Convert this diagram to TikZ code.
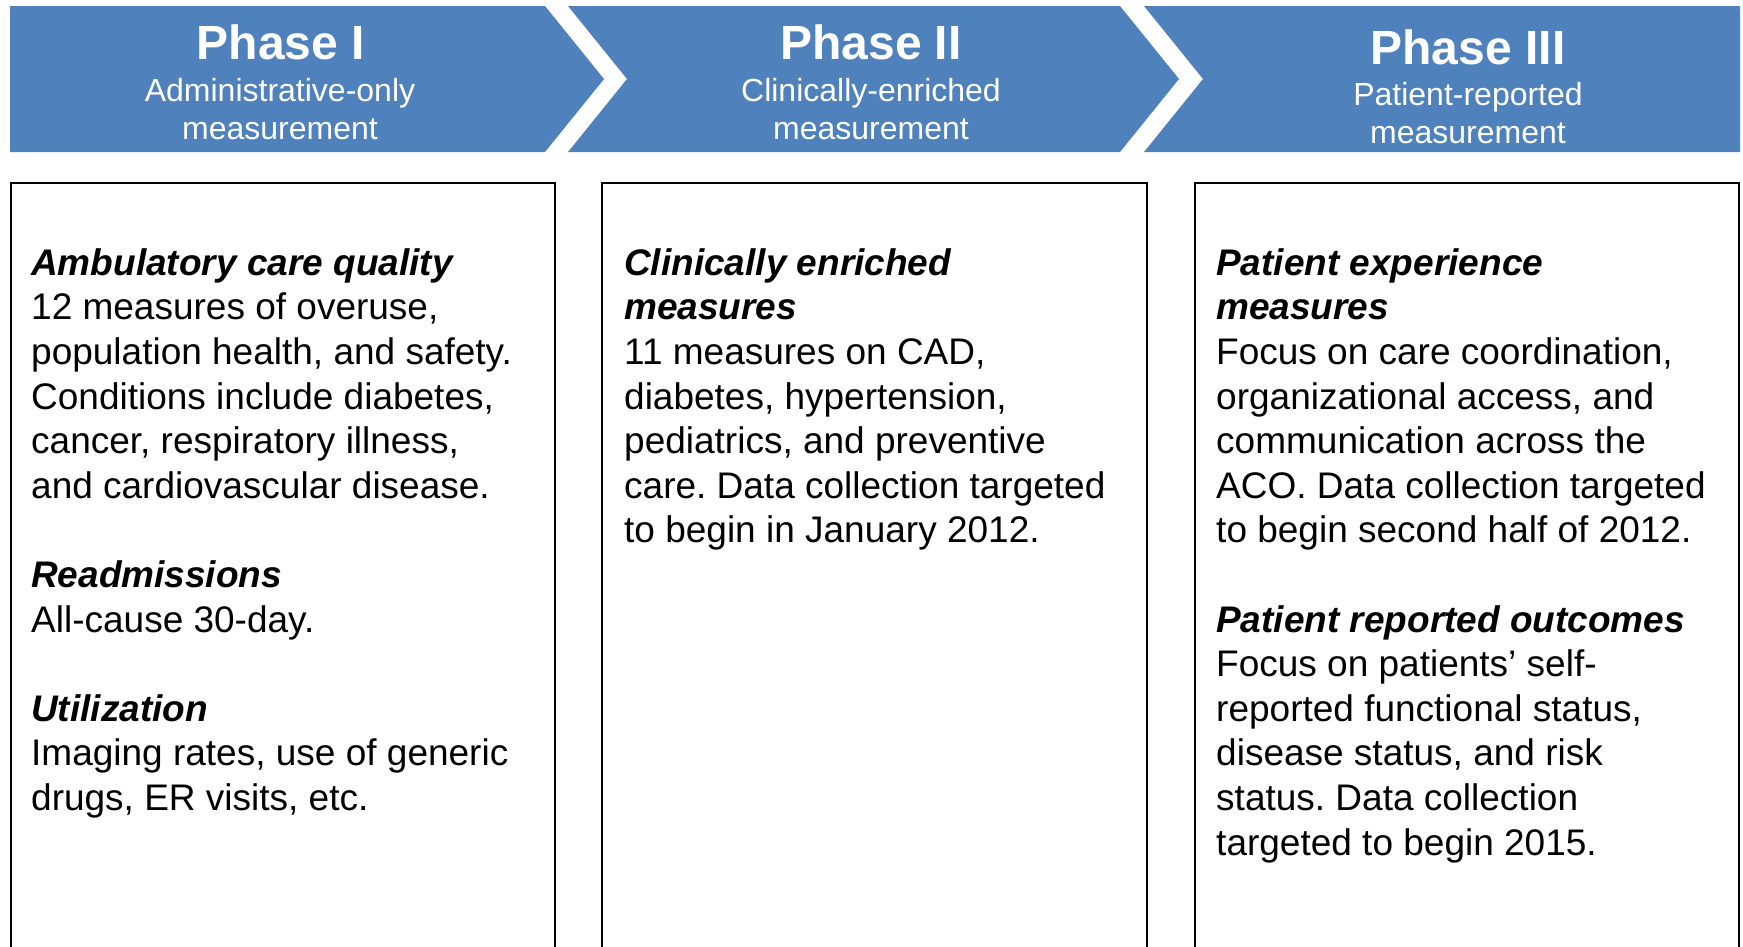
\documentclass[tikz,border=0pt]{standalone}
\usepackage{fontspec}
\setmainfont{Liberation Sans}
\frenchspacing
\definecolor{phaseblue}{HTML}{4F81BD}
\begin{document}
\begin{tikzpicture}[x=1pt,y=-1pt,
  phasefill/.style={fill=phaseblue,draw=none},
  boxline/.style={draw=black,line width=1.6pt},
  ptitle/.style={text=white,inner sep=0pt,anchor=base,font=\fontsize{48}{56}\selectfont\bfseries},
  psub/.style={text=white,inner sep=0pt,anchor=north,align=center,font=\fontsize{32}{38}\selectfont},
  body/.style={inner sep=0pt,anchor=north west,align=left,font=\fontsize{37}{44.6}\selectfont\frenchspacing}]
\useasboundingbox (0,0) rectangle (1743,946);
\fill[white] (0,0) rectangle (1743,946);
% chevrons
\path[phasefill] (10,6) -- (545,6) -- (604,79) -- (545,152) -- (10,152) -- cycle;
\path[phasefill] (568,6) -- (1120,6) -- (1179,79) -- (1120,152) -- (568,152) -- (627,79) -- cycle;
\path[phasefill] (1144,6) -- (1740,6) -- (1740,152) -- (1144,152) -- (1203,79) -- cycle;
% phase texts
\node[ptitle] (t1) at (281,59) {Phase I};
\node[psub] (s1) at (280,76) {\rule{0pt}{25pt}Administrative-only\\measurement};
\node[ptitle] (t2) at (871,59) {Phase II};
\node[psub] (s2) at (871,76) {\rule{0pt}{25pt}Clinically-enriched\\measurement};
\node[ptitle] (t3) at (1468,64) {Phase III};
\node[psub] (s3) at (1468,80) {\rule{0pt}{25pt}Patient-reported\\measurement};
% boxes
\draw[boxline] (11,950) -- (11,183) -- (555,183) -- (555,950);
\draw[boxline] (602,950) -- (602,183) -- (1147,183) -- (1147,950);
\draw[boxline] (1195,950) -- (1195,183) -- (1739,183) -- (1739,950);
% box texts
\node[body] (b1) at (31,245) {\rule{0pt}{30pt}\textbf{\textit{Ambulatory care quality}}\\
12 measures of overuse,\\
population health, and safety.\\
Conditions include diabetes,\\
cancer, respiratory illness,\\
and cardiovascular disease.\\[44.6pt]
\textbf{\textit{Readmissions}}\\
All-cause 30-day.\\[44.6pt]
\textbf{\textit{Utilization}}\\
Imaging rates, use of generic\\
drugs, ER visits, etc.};
\node[body] (b2) at (624,245) {\rule{0pt}{30pt}\textbf{\textit{Clinically enriched}}\\
\textbf{\textit{measures}}\\
11 measures on CAD,\\
diabetes, hypertension,\\
pediatrics, and preventive\\
care. Data collection targeted\\
to begin in January 2012.};
\node[body] (b3) at (1216,245) {\rule{0pt}{30pt}\textbf{\textit{Patient experience}}\\
\textbf{\textit{measures}}\\
Focus on care coordination,\\
organizational access, and\\
communication across the\\
ACO. Data collection targeted\\
to begin second half of 2012.\\[44.6pt]
\textbf{\textit{Patient reported outcomes}}\\
Focus on patients’ self-\\
reported functional status,\\
disease status, and risk\\
status. Data collection\\
targeted to begin 2015.};
\end{tikzpicture}
\end{document}
